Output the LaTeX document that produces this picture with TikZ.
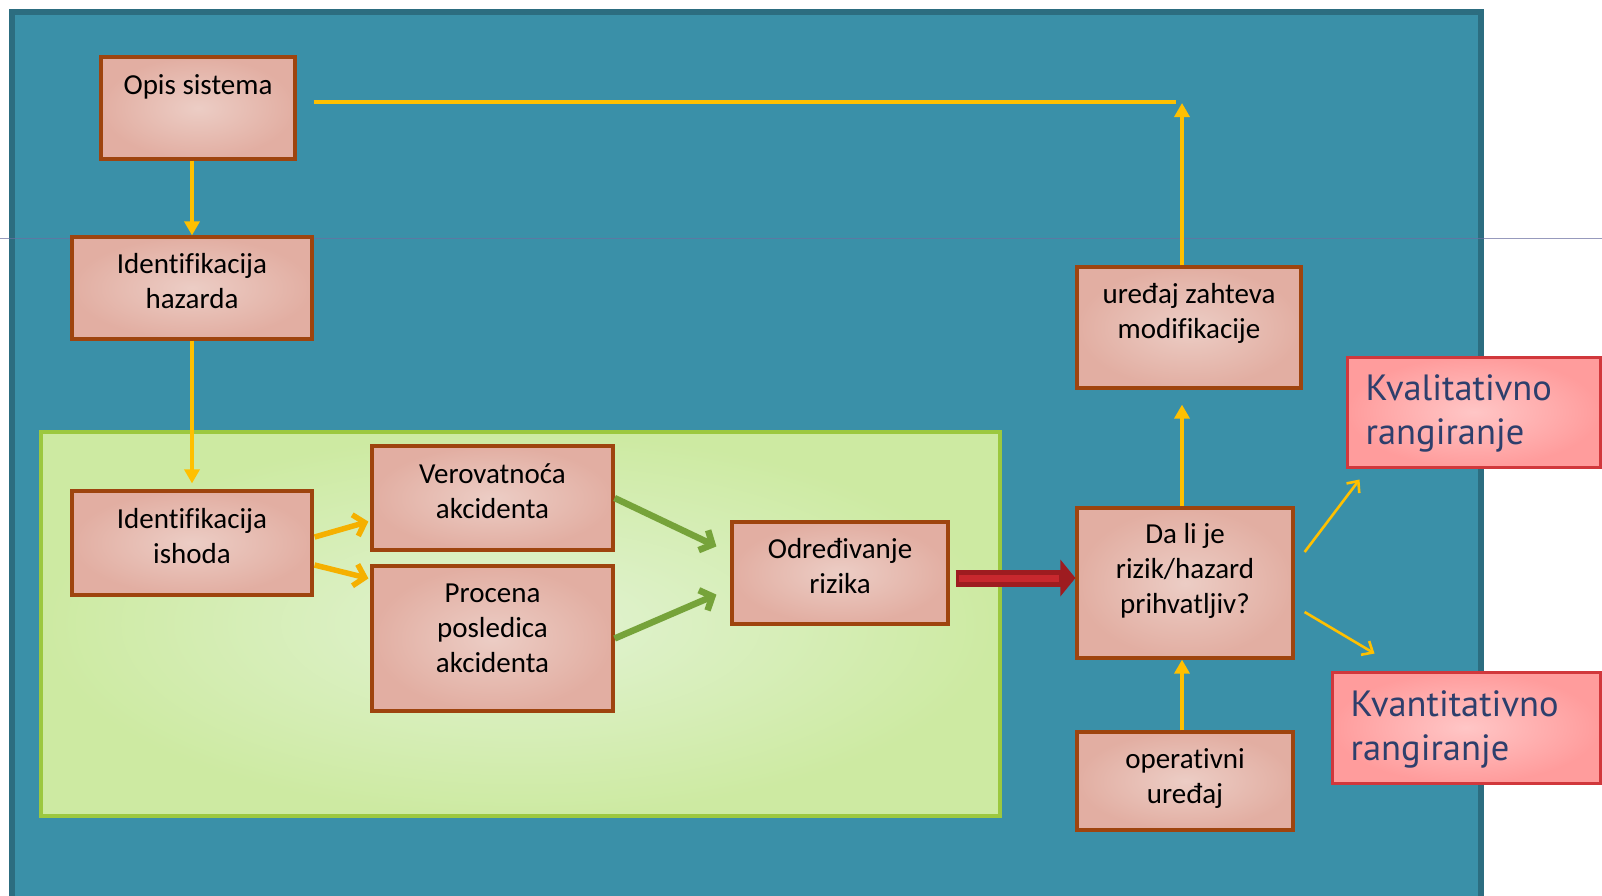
\documentclass[tikz,border=0pt]{standalone}
\usepackage{fontspec}
\setmainfont{Carlito}[Ligatures=NoCommon]
\newfontfamily\gillfont{PT Sans}
\usetikzlibrary{arrows.meta}

\definecolor{tirkiz}{HTML}{3A90A8}
\definecolor{tirkizrub}{HTML}{2C6D80}
\definecolor{linija}{HTML}{6B6FA0}
\definecolor{kutijaunutra}{HTML}{ECCDC5}
\definecolor{kutijaspolja}{HTML}{E2AEA2}
\definecolor{kutijarub}{HTML}{9E440E}
\definecolor{zelenaunutra}{HTML}{E2F3D3}
\definecolor{zelenaspolja}{HTML}{CDEAA2}
\definecolor{zelenarub}{HTML}{9CC83F}
\definecolor{zuta}{HTML}{FFC000}
\definecolor{narandzasta}{HTML}{F5B000}
\definecolor{maslinasta}{HTML}{76A33A}
\definecolor{tamnocrvena}{HTML}{9E1C20}
\definecolor{crvena}{HTML}{C8282E}
\definecolor{rozaunutra}{HTML}{FFC6C6}
\definecolor{rozaspolja}{HTML}{FF9C9C}
\definecolor{rozarub}{HTML}{D1383C}
\definecolor{plavitekst}{HTML}{2E3F6C}

\tikzset{
  kutija/.style={draw=kutijarub, line width=3.2pt, inner color=kutijaunutra, outer color=kutijaspolja},
  natpis/.style={anchor=north, inner sep=0pt, align=center, font=\fontsize{29}{35}\selectfont, text=black},
  rang/.style={draw=rozarub, line width=3pt, inner color=rozaunutra, outer color=rozaspolja},
  rangnatpis/.style={anchor=north west, inner sep=0pt, align=left, font=\gillfont\fontsize{36.5}{44}\selectfont, text=plavitekst},
  zutastrelica/.style={zuta, line width=3.4pt, -{Triangle[length=14pt,width=15pt]}},
  tankastrelica/.style={zuta, line width=2.6pt, -{Straight Barb[length=9pt,width=16pt]}},
  debelastrelica/.style={line width=5.5pt, -{Straight Barb[length=10pt,width=22pt]}},
}

\begin{document}
\begin{tikzpicture}[x=1pt, y=-1pt]
		\useasboundingbox (0,0) rectangle (1602,895);
		
		% Pozadina
		\draw[fill=tirkiz, draw=tirkizrub, line width=5.5pt] (12,12) rectangle (1481,910);
		\draw[linija, line width=1pt, opacity=0.7] (0,238) -- (1602,238);
		\draw[zelenarub, line width=3.5pt, inner color=zelenaunutra, outer color=zelenaspolja] (41,432) rectangle (1000,816);
		
		% Kutije
		\node[kutija, minimum width=194, minimum height=102] (opis) at (198,108) {};
		\node[kutija, minimum width=240, minimum height=102] (hazard) at (192,288) {};
		\node[kutija, minimum width=240, minimum height=104] (ishod) at (192,543) {};
		\node[kutija, minimum width=241, minimum height=104] (verov) at (492.5,498) {};
		\node[kutija, minimum width=241, minimum height=145] (procena) at (492.5,638.5) {};
		\node[kutija, minimum width=216, minimum height=102] (odred) at (840,573) {};
		\node[kutija, minimum width=216, minimum height=150] (dali) at (1185,583) {};
		\node[kutija, minimum width=224, minimum height=121] (modif) at (1189,327.5) {};
		\node[kutija, minimum width=216, minimum height=98] (oper) at (1185,781) {};
		\node[rang, minimum width=253, minimum height=110] (kvalit) at (1473.5,412) {};
		\node[rang, minimum width=268, minimum height=111] (kvantit) at (1466,727.5) {};
		
		% Natpisi
		\node[natpis] at ([yshift=-19]opis.north) {Opis sistema};
		\node[natpis] at ([yshift=-18]hazard.north) {Identifikacija\\hazarda};
		\node[natpis] at ([yshift=-18.5]ishod.north) {Identifikacija\\ishoda};
		\node[natpis] at ([yshift=-19.5]verov.north) {Verovatnoća\\akcidenta};
		\node[natpis] at ([yshift=-19.5]procena.north) {Procena\\posledica\\akcidenta};
		\node[natpis] at ([yshift=-18]odred.north) {Određivanje\\rizika};
		\node[natpis] at ([yshift=-17]dali.north) {Da li je\\rizik/hazard\\prihvatljiv?};
		\node[natpis] at ([yshift=-18]modif.north) {uređaj zahteva\\modifikacije};
		\node[natpis] at ([yshift=-18]oper.north) {operativni\\uređaj};
		\node[rangnatpis] at ([xshift=20,yshift=-19]kvalit.north west) {Kvalitativno\\rangiranje};
		\node[rangnatpis] at ([xshift=20,yshift=-20]kvantit.north west) {Kvantitativno\\rangiranje};
		
		% Veze
		\coordinate (vrh) at (1182,103);
		\coordinate (kraj) at (1176,102);
		\draw[zutastrelica] (opis.south -| hazard.north) -- (hazard.north);
		\draw[zutastrelica, shorten >=6pt] (hazard.south) -- (ishod.north);
		\draw[zuta, line width=3.4pt] ([xshift=17,yshift=6]opis.east) -- (kraj);
		\draw[zutastrelica] (modif.north -| vrh) -- (vrh);
		\draw[zutastrelica, shorten >=15pt] (dali.north -| vrh) -- (modif.south -| vrh);
		\draw[zutastrelica] (oper.north -| vrh) -- (dali.south -| vrh);
		
		\draw[debelastrelica, narandzasta] ([xshift=1,yshift=6]ishod.east) -- ([xshift=-2,yshift=30]verov.south west);
		\draw[debelastrelica, narandzasta] ([xshift=1,yshift=-22]ishod.east) -- ([xshift=-2,yshift=-14]procena.north west);
		\draw[debelastrelica, maslinasta, line width=6.5pt] (verov.east) -- ([xshift=-14,yshift=-26]odred.north west);
		\draw[debelastrelica, maslinasta, line width=6.5pt] (procena.east) -- ([xshift=-14,yshift=31]odred.south west);
		
		\draw[tamnocrvena, line width=17pt, -{Triangle[length=15pt,width=36pt]}] ([xshift=6,yshift=-5]odred.east) -- ([yshift=5]dali.west);
		\draw[crvena, line width=7pt, shorten >=16pt] ([xshift=9,yshift=-5]odred.east) -- ([yshift=5]dali.west);
		
		\draw[tankastrelica] ([xshift=10,yshift=31]dali.east) -- ([xshift=14,yshift=-11]kvalit.south west);
		\draw[tankastrelica] ([xshift=10,yshift=-29]dali.east) -- ([xshift=44,yshift=17]kvantit.north west);
		
	\end{tikzpicture}
\end{document}
